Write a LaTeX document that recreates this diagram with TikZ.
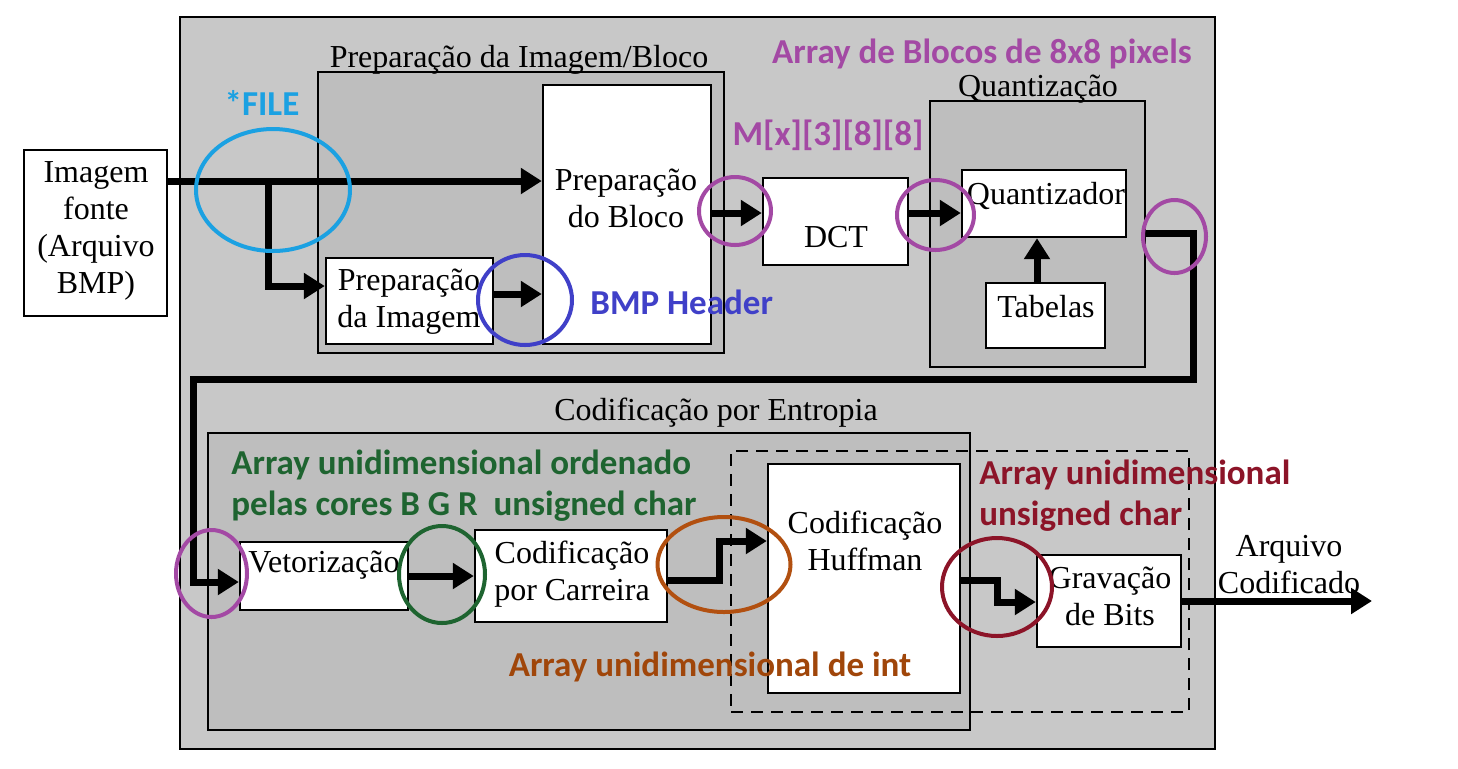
\documentclass[tikz,border=0pt]{standalone}
\usepackage{fontspec}
\setmainfont{Liberation Serif}
\newfontfamily\carl{Carlito}
\usetikzlibrary{arrows.meta,shapes.geometric}
\definecolor{outergray}{RGB}{200,200,200}
\definecolor{innergray}{RGB}{190,190,190}
\definecolor{cfile}{RGB}{27,161,226}
\definecolor{cbmp}{RGB}{64,64,200}
\definecolor{cpurp}{RGB}{163,73,164}
\definecolor{cgreen}{RGB}{30,100,48}
\definecolor{corange}{RGB}{178,80,16}
\definecolor{corangetxt}{RGB}{160,70,10}
\definecolor{cdred}{RGB}{140,20,40}
\begin{document}
\begin{tikzpicture}[x=0.5pt,y=-0.5pt,
  wbox/.style={draw=black, line width=1.2pt, fill=white, inner sep=0pt},
  gbox/.style={draw=black, line width=1.2pt, fill=innergray, inner sep=0pt},
  lbl/.style={font=\fontsize{16}{18.5}\selectfont, align=center, inner sep=0pt},
  note/.style={font=\carl\bfseries\fontsize{17.5}{20.5}\selectfont, inner sep=0pt},
  flow/.style={line width=3.5pt, -{Triangle[length=10.5pt,width=12.5pt]}},
  ring/.style={ellipse, draw, line width=2pt, inner sep=0pt},
]
\useasboundingbox (0,0) rectangle (1458,768);
% background groups
\node[draw=black, line width=1.2pt, fill=outergray, minimum width=517.5pt, minimum height=366pt, inner sep=0pt] (outer) at (697.5,383) {};
\node[gbox, minimum width=203pt, minimum height=140.5pt] (gprep) at (521,212.5) {};
\node[lbl] (tprep) at (519,60) {Preparação da Imagem/Bloco};
\node[gbox, minimum width=107.5pt, minimum height=133pt] (gquant) at (1037.5,234) {};
\node[lbl] (tquant) at (1038,89) {Quantização};
\node[gbox, minimum width=381pt, minimum height=148.5pt] (gentr) at (589,581.5) {};
\node[lbl] (tentr) at (716,413) {Codificação por Entropia};
\node[draw=black, line width=1pt, dash pattern=on 6pt off 4pt, minimum width=229pt, minimum height=130.5pt, inner sep=0pt] (dashb) at (960,581.5) {};
% white boxes
\node[wbox, minimum width=71.5pt, minimum height=83pt] (img) at (95.5,233) {};
\node[lbl] (timg) at (96,231) {Imagem\\fonte\\(Arquivo\\BMP)};
\node[wbox, minimum width=84pt, minimum height=129.5pt] (pbloco) at (627,214.5) {};
\node[lbl] (tpbloco) at (626,198) {Preparação\\do Bloco};
\node[wbox, minimum width=83.5pt, minimum height=43pt] (pimg) at (409.5,301) {};
\node[lbl] (tpimg) at (409,302) {Preparação\\da Imagem};
\node[wbox, minimum width=72.5pt, minimum height=43.5pt] (dct) at (835.5,221.5) {};
\node[lbl] (tdct) at (836,237) {DCT};
\node[wbox, minimum width=82pt, minimum height=33.5pt] (qz) at (1044,203.5) {};
\node[lbl] (tqz) at (1046,196) {Quantizador};
\node[wbox, minimum width=59.5pt, minimum height=32.5pt] (tab) at (1045.5,315.5) {};
\node[lbl] (ttab) at (1046,307) {Tabelas};
\node[wbox, minimum width=96pt, minimum height=114.5pt] (huff) at (864,578.5) {};
\node[lbl] (thuff) at (865,541) {Codificação\\Huffman};
\node[wbox, minimum width=84pt, minimum height=34pt] (vet) at (324,576) {};
\node[lbl] (tvet) at (324,565) {Vetorização};
\node[wbox, minimum width=96pt, minimum height=46pt] (carr) at (571,576) {};
\node[lbl] (tcarr) at (572,574) {Codificação\\por Carreira};
\node[wbox, minimum width=72pt, minimum height=46pt] (grav) at (1109,601) {};
\node[lbl] (tgrav) at (1110,596) {Gravação\\de Bits};
\node[lbl] (tout) at (1289,565) {Arquivo\\Codificado};
% connectors
\coordinate (yin) at (0,181);
\coordinate (br) at (268,181);
\draw[flow] (img.east |- yin) -- (pbloco.west |- yin);
\draw[flow] (br) |- ([yshift=7.5pt]pimg.west);
\draw[flow] ([yshift=3.5pt]pimg.east) -- ([yshift=3.5pt]pimg.east -| pbloco.west);
\coordinate (ydct) at (0,213);
\draw[flow] (pbloco.east |- ydct) -- (dct.west |- ydct);
\draw[flow] (dct.east |- ydct) -- (qz.west |- ydct);
\coordinate (xtab) at (1037,0);
\draw[flow] (tab.north -| xtab) -- (qz.south -| xtab);
\coordinate (c1) at (1193,233);
\coordinate (c2) at (193,379);
\draw[flow] (gquant.east |- c1) -- (c1) |- (c2) |- ([yshift=-3pt]vet.west);
\draw[flow] (vet.east) -- (carr.west);
\coordinate (xs1) at (719,0);
\coordinate (hy) at (0,541);
\draw[flow] ([yshift=-2pt]carr.east) -| (xs1 |- hy) -- (huff.west |- hy);
\coordinate (xs2) at (997,0);
\coordinate (yr1) at (0,580);
\coordinate (yr2) at (0,602);
\draw[flow] (huff.east |- yr1) -| (xs2 |- yr2) -- (grav.west |- yr2);
\coordinate (outend) at (1372,601);
\draw[flow] (grav.east) -- (outend);
% rings
\node[ring, draw=cfile, minimum width=77pt, minimum height=61pt] (rfile) at (273,190) {};
\node[ring, draw=cbmp, minimum width=47pt, minimum height=45pt] (rbmp) at (525,300) {};
\node[ring, draw=cpurp, minimum width=36pt, minimum height=34pt] (rp1) at (735,211) {};
\node[ring, draw=cpurp, minimum width=38.5pt, minimum height=35pt] (rp2) at (935.5,215) {};
\node[ring, draw=cpurp, minimum width=31.5pt, minimum height=36.5pt] (rp3) at (1174.5,236.5) {};
\node[ring, draw=cpurp, minimum width=35.5pt, minimum height=43.5pt] (rp4) at (211.5,573.5) {};
\node[ring, draw=cgreen, minimum width=43pt, minimum height=48.5pt] (rgreen) at (442,574.5) {};
\node[ring, draw=corange, minimum width=66.5pt, minimum height=47.5pt] (rorange) at (724,564.5) {};
\node[ring, draw=cdred, minimum width=55pt, minimum height=49pt] (rdred) at (997,587) {};
% notes
\node[note, text=cfile] (nfile) at (262,103) {*FILE};
\node[note, text=cbmp, anchor=west] (nbmp) at (590,302) {BMP Header};
\node[note, text=cpurp] (nblocos) at (982,54) {Array de Blocos de 8x8 pixels};
\node[note, text=cpurp] (nm) at (828,135) {M[x][3][8][8]};
\node[note, text=cgreen, anchor=west, align=left] (ngreen) at (231,486) {Array unidimensional ordenado\\pelas cores B G R~ unsigned char};
\node[note, text=corangetxt] (norange) at (710,667) {Array unidimensional de int};
\node[note, text=cdred, anchor=west, align=left] (ndred) at (979,495.5) {Array unidimensional\\unsigned char};
\end{tikzpicture}
\end{document}
